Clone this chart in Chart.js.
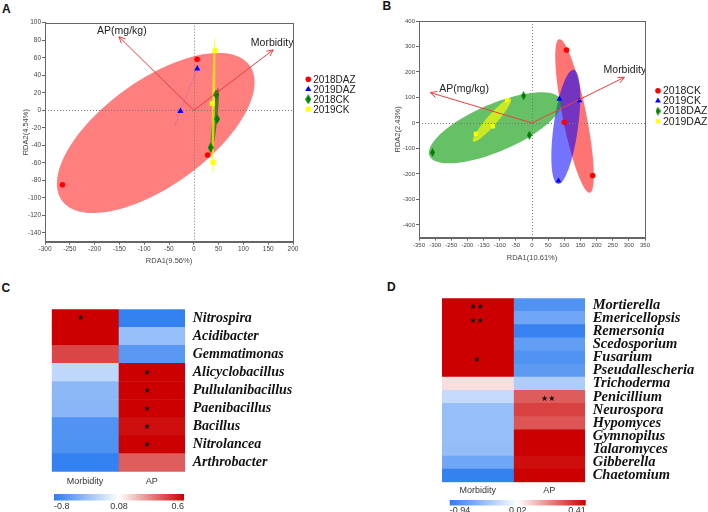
<!DOCTYPE html>
<html lang="en">
<head>
<meta charset="UTF-8">
<title>RDA and correlation heatmaps</title>
<style>
  body { margin: 0; background: #fff; width: 708px; height: 512px; position: relative; overflow: hidden; }
  .box { position: absolute; }
  .tag { position: absolute; font: bold 12px "Liberation Sans", Arial, sans-serif; color: #111; line-height: 12px; }
</style>
</head>
<body>
<div class="tag" style="left:2px;top:2.5px">A</div>
<div class="tag" style="left:382.5px;top:-0.5px">B</div>
<div class="tag" style="left:1.5px;top:281.5px">C</div>
<div class="tag" style="left:387px;top:281px">D</div>

<div class="box" style="left:0;top:0;width:362px;height:268px"><canvas id="chartA"></canvas></div>
<div class="box" style="left:350px;top:0;width:358px;height:265px"><canvas id="chartB"></canvas></div>
<div class="box" style="left:0;top:280px;width:354px;height:232px"><canvas id="chartC"></canvas></div>
<div class="box" style="left:354px;top:280px;width:354px;height:232px"><canvas id="chartD"></canvas></div>

<script src="https://cdn.jsdelivr.net/npm/chart.js@4.4.0/dist/chart.umd.min.js"></script>
<script>
// ---- panel A: RDA, bacteria ----
const aGroups = ['2018DAZ', '2019DAZ', '2018CK', '2019CK'];
const aX = [[6.7, 28, -265], [7, -27], [45, 47, 34], [43, 37, 39]];
const aY = [[58.3, -51, -85], [47.5, -1], [18, -10, -42.6], [68, 7.7, -59.5]];
const aVecNames = ['AP(mg/kg)', 'Morbidity'];
const aVecX = [-151, 160];
const aVecY = [84, 69];
const aXTicks = [-300, -250, -200, -150, -100, -50, 0, 50, 100, 150, 200];
const aYTicks = [100, 80, 60, 40, 20, 0, -20, -40, -60, -80, -100, -120, -140];

// ---- panel B: RDA, fungi ----
const bGroups = ['2018CK', '2019CK', '2018DAZ', '2019DAZ'];
const bX = [[107, 100, 188], [85, 147, 82], [-26, -8, -308], [-77, -121, -174]];
const bY = [[286, 3, -206], [94, 88, -227], [107, -48, -116], [90, -13, -43]];
const bVecNames = ['AP(mg/kg)', 'Morbidity'];
const bVecX = [-315, 286];
const bVecY = [119, 179];
const bXTicks = [-350, -300, -250, -200, -150, -100, -50, 0, 50, 100, 150, 200, 250, 300, 350];
const bYTicks = [400, 300, 200, 100, 0, -100, -200, -300, -400];

// ---- panel C: bacteria heatmap ----
const cGenera = ['Nitrospira', 'Acidibacter', 'Gemmatimonas', 'Alicyclobacillus', 'Pullulanibacillus',
  'Paenibacillus', 'Bacillus', 'Nitrolancea', 'Arthrobacter'];
const cMorbidity = [0.6, 0.6, 0.46, -0.19, -0.40, -0.42, -0.65, -0.66, -0.77];
const cAP = [-0.77, -0.36, -0.61, 0.6, 0.6, 0.6, 0.57, 0.6, 0.41];
const cMorbiditySig = ['*', '', '', '', '', '', '', '', ''];
const cAPSig = ['', '', '', '*', '*', '*', '*', '*', ''];
const cScaleTicks = [-0.8, 0.08, 0.6];

// ---- panel D: fungi heatmap ----
const dGenera = ['Mortierella', 'Emericellopsis', 'Remersonia', 'Scedosporium', 'Fusarium', 'Pseudallescheria',
  'Trichoderma', 'Penicillium', 'Neurospora', 'Hypomyces', 'Gymnopilus', 'Talaromyces', 'Gibberella', 'Chaetomium'];
const dMorbidity = [0.41, 0.41, 0.41, 0.41, 0.41, 0.41, 0.07, -0.25, -0.46, -0.46, -0.46, -0.47, -0.64, -0.91];
const dAP = [-0.78, -0.64, -0.9, -0.7, -0.78, -0.72, -0.35, 0.27, 0.31, 0.28, 0.41, 0.41, 0.39, 0.41];
const dMorbiditySig = ['**', '**', '', '', '*', '', '', '', '', '', '', '', '', ''];
const dAPSig = ['', '', '', '', '', '', '', '**', '', '', '', '', '', ''];
const dScaleTicks = [-0.94, 0.02, 0.41];

const heatColumns = ['Morbidity', 'AP'];

const SANS = '"Liberation Sans", Arial, sans-serif';
const SERIF = '"Liberation Serif", "Times New Roman", serif';
Chart.defaults.font.family = SANS;

const BLUE = [45, 125, 240], RED = [204, 0, 0];

function heatColor(v, lo, mid, hi) {
  let t, c;
  if (v <= mid) { t = Math.min(1, (mid - v) / (mid - lo)); c = BLUE; }
  else { t = Math.min(1, (v - mid) / (hi - mid)); c = RED; }
  const m = k => Math.round(255 + (c[k] - 255) * t);
  return `rgb(${m(0)},${m(1)},${m(2)})`;
}

function tallDiamond(color, w, h) {
  const c = document.createElement('canvas');
  c.width = w; c.height = h;
  const g = c.getContext('2d');
  g.fillStyle = color;
  g.beginPath();
  g.moveTo(w / 2, 0); g.lineTo(w, h / 2); g.lineTo(w / 2, h); g.lineTo(0, h / 2);
  g.closePath(); g.fill();
  return c;
}

// confidence-style ellipse from each group's covariance, then the zero lines
const ellipsePlugin = {
  id: 'ellipses',
  beforeDatasetsDraw(chart, args, opts) {
    const {ctx, chartArea: a, scales: {x, y}} = chart;
    ctx.save();
    ctx.beginPath(); ctx.rect(a.left, a.top, a.width, a.height); ctx.clip();
    chart.data.datasets.forEach(ds => {
      const pts = ds.data, n = pts.length;
      const mx = pts.reduce((s, p) => s + p.x, 0) / n;
      const my = pts.reduce((s, p) => s + p.y, 0) / n;
      let sxx = 0, syy = 0, sxy = 0;
      pts.forEach(p => { const dx = p.x - mx, dy = p.y - my; sxx += dx * dx; syy += dy * dy; sxy += dx * dy; });
      sxx /= n - 1; syy /= n - 1; sxy /= n - 1;
      const h = (sxx + syy) / 2, d = Math.sqrt(((sxx - syy) / 2) ** 2 + sxy * sxy);
      const r1 = opts.scale * Math.sqrt(Math.max(h + d, 0));
      const r2 = opts.scale * Math.sqrt(Math.max(h - d, 0));
      const phi = 0.5 * Math.atan2(2 * sxy, sxx - syy);
      ctx.beginPath();
      for (let i = 0; i <= 120; i++) {
        const t = i / 120 * 2 * Math.PI;
        const u = r1 * Math.cos(t), v = r2 * Math.sin(t);
        const px = x.getPixelForValue(mx + u * Math.cos(phi) - v * Math.sin(phi));
        const py = y.getPixelForValue(my + u * Math.sin(phi) + v * Math.cos(phi));
        if (i) ctx.lineTo(px, py); else ctx.moveTo(px, py);
      }
      ctx.closePath();
      if (r2 < r1 * 1e-3) {
        ctx.strokeStyle = ds.ellipseLine; ctx.lineWidth = 1; ctx.stroke();
      } else {
        ctx.fillStyle = ds.ellipseFill; ctx.fill();
      }
    });
    // dotted zero lines
    const x0 = Math.round(x.getPixelForValue(0)) + 0.5, y0 = Math.round(y.getPixelForValue(0)) + 0.5;
    ctx.strokeStyle = '#777'; ctx.lineWidth = 1; ctx.setLineDash([1, 2]);
    ctx.beginPath();
    ctx.moveTo(x0, a.top); ctx.lineTo(x0, a.bottom);
    ctx.moveTo(a.left, y0); ctx.lineTo(a.right, y0);
    ctx.stroke();
    ctx.restore();
  }
};

const vectorPlugin = {
  id: 'vectors',
  afterDatasetsDraw(chart, args, opts) {
    const {ctx, scales: {x, y}} = chart;
    const x0 = x.getPixelForValue(0), y0 = y.getPixelForValue(0);
    ctx.save();
    ctx.strokeStyle = opts.color; ctx.lineWidth = 1;
    opts.names.forEach((name, i) => {
      const x1 = x.getPixelForValue(opts.xs[i]), y1 = y.getPixelForValue(opts.ys[i]);
      const ang = Math.atan2(y1 - y0, x1 - x0);
      ctx.beginPath();
      ctx.moveTo(x0, y0); ctx.lineTo(x1, y1);
      [-1, 1].forEach(s => {
        ctx.moveTo(x1, y1);
        ctx.lineTo(x1 - 7 * Math.cos(ang + s * 0.45), y1 - 7 * Math.sin(ang + s * 0.45));
      });
      ctx.stroke();
      const lab = opts.labels[i];
      ctx.fillStyle = '#222';
      ctx.font = `${opts.size}px ${SANS}`;
      ctx.textAlign = lab.align; ctx.textBaseline = 'middle';
      ctx.fillText(name, x1 + lab.dx, y1 + lab.dy);
    });
    ctx.restore();
  }
};

const frameLegend = {
  id: 'frameLegend',
  afterDraw(chart, args, opts) {
    const {ctx, chartArea: a} = chart;
    ctx.save();
    ctx.strokeStyle = '#666'; ctx.lineWidth = 1;
    ctx.strokeRect(Math.round(a.left) + 0.5, Math.round(a.top) + 0.5, Math.round(a.width), Math.round(a.height));
    ctx.font = `${opts.size}px ${SANS}`;
    ctx.textBaseline = 'middle'; ctx.textAlign = 'left';
    chart.data.datasets.forEach((ds, i) => {
      const yy = opts.y + i * opts.step;
      ctx.fillStyle = ds.backgroundColor;
      Chart.helpers.drawPoint(ctx, {pointStyle: ds.pointStyle, radius: ds.pointRadius, rotation: 0, borderWidth: 0}, opts.x, yy);
      ctx.fillStyle = '#222';
      ctx.fillText(ds.label, opts.x + opts.gap, yy + 0.5);
    });
    ctx.restore();
  }
};

function rdaChart(id, p) {
  return new Chart(document.getElementById(id), {
    type: 'scatter',
    data: {
      datasets: p.groups.map((g, i) => ({
        label: g,
        data: p.xs[i].map((v, j) => ({x: v, y: p.ys[i][j]})),
        backgroundColor: p.colors[i],
        borderWidth: 0,
        pointStyle: p.styles[i],
        pointRadius: p.radii[i],
        pointHoverRadius: p.radii[i],
        ellipseFill: p.fills[i],
        ellipseLine: p.lines[i]
      }))
    },
    options: {
      responsive: true, maintainAspectRatio: false, animation: false, events: [],
      layout: {padding: p.pad},
      plugins: {
        legend: {display: false}, tooltip: {enabled: false},
        ellipses: {scale: 1.22},
        vectors: {names: p.vecNames, xs: p.vecX, ys: p.vecY, color: 'rgb(240,60,60)', size: 10.5, labels: p.vecLabels},
        frameLegend: p.legend
      },
      scales: {
        x: {
          type: 'linear', min: p.xTicks[0], max: p.xTicks[p.xTicks.length - 1],
          afterBuildTicks: s => { s.ticks = p.xTicks.map(v => ({value: v})); },
          afterFit: s => { s.height = p.xAxisH; },
          ticks: {font: {size: p.tickSize}, color: '#444', padding: 1, autoSkip: false, maxRotation: 0},
          grid: {drawOnChartArea: false, tickLength: 3, color: '#666'},
          border: {color: '#666'},
          title: {display: true, text: p.xTitle, font: {size: 7.5}, color: '#444', padding: {top: 0, bottom: 3}}
        },
        y: {
          type: 'linear', min: p.yMin, max: p.yTicks[0],
          afterBuildTicks: s => { s.ticks = p.yTicks.map(v => ({value: v})); },
          afterFit: s => { s.width = p.yAxisW; },
          ticks: {font: {size: p.tickSize}, color: '#444', padding: 1, autoSkip: false},
          grid: {drawOnChartArea: false, tickLength: 3, color: '#666'},
          border: {color: '#666'},
          title: {display: true, text: p.yTitle, font: {size: 7.5}, color: '#444', padding: {top: 3, bottom: 0}}
        }
      }
    },
    plugins: [ellipsePlugin, vectorPlugin, frameLegend]
  });
}

rdaChart('chartA', {
  groups: aGroups, xs: aX, ys: aY,
  colors: ['#ff0000', '#0000ff', '#008000', '#ffff00'],
  styles: ['circle', 'triangle', tallDiamond('#008000', 6, 10), 'rect'],
  radii: [2.8, 3.6, 4, 3.5],
  fills: ['rgba(255,0,0,0.5)', 'rgba(0,0,255,0.5)', 'rgba(0,110,0,0.65)', 'rgba(255,255,0,0.7)'],
  lines: ['rgba(255,0,0,0.3)', 'rgba(90,90,255,0.12)', 'rgba(0,110,0,0.3)', 'rgba(255,255,0,0.4)'],
  vecNames: aVecNames, vecX: aVecX, vecY: aVecY,
  vecLabels: [{align: 'center', dx: 3, dy: -6}, {align: 'center', dx: -1, dy: -7}],
  xTicks: aXTicks, yTicks: aYTicks, yMin: -150,
  xTitle: 'RDA1(9.56%)', yTitle: 'RDA2(4.54%)',
  pad: {left: 18, top: 22.7, right: 69, bottom: 0},
  yAxisW: 27, xAxisH: 26.3, tickSize: 6.5,
  legend: {x: 308.3, y: 79.3, step: 10, gap: 5, size: 10}
});

rdaChart('chartB', {
  groups: bGroups, xs: bX, ys: bY,
  colors: ['#ff0000', '#0000ff', '#008000', '#ffff00'],
  styles: ['circle', 'triangle', tallDiamond('#008000', 5, 9), 'rect'],
  radii: [2.8, 3.4, 4, 3],
  fills: ['rgba(255,0,0,0.55)', 'rgba(0,0,255,0.55)', 'rgba(0,150,0,0.6)', 'rgba(255,255,0,0.65)'],
  lines: ['rgba(255,0,0,0.3)', 'rgba(0,0,255,0.3)', 'rgba(0,150,0,0.3)', 'rgba(255,255,0,0.4)'],
  vecNames: bVecNames, vecX: bVecX, vecY: bVecY,
  vecLabels: [{align: 'left', dx: 9, dy: -4}, {align: 'center', dx: 0.5, dy: -7.5}],
  xTicks: bXTicks, yTicks: bYTicks, yMin: -450,
  xTitle: 'RDA1(10.61%)', yTitle: 'RDA2(2.43%)',
  pad: {left: 40, top: 21, right: 63, bottom: 0},
  yAxisW: 29, xAxisH: 27.3, tickSize: 6,
  legend: {x: 308, y: 90.7, step: 10.2, gap: 5, size: 10.5}
});

// ---- heatmaps ----
const starPlugin = {
  id: 'stars',
  afterDatasetsDraw(chart, args, opts) {
    const {ctx, scales: {x, y}} = chart;
    ctx.save();
    ctx.fillStyle = '#111';
    ctx.font = `${opts.size}px "DejaVu Sans", sans-serif`;
    ctx.textAlign = 'center'; ctx.textBaseline = 'middle';
    opts.marks.forEach((col, i) => {
      col.forEach((m, j) => {
        if (!m) return;
        ctx.fillText(m.replace(/\*/g, '\u2605'), x.getPixelForValue(i + 0.5) + opts.dx, y.getPixelForValue(j) + opts.dy);
      });
    });
    ctx.restore();
  }
};

const colorbarPlugin = {
  id: 'colorbar',
  afterDraw(chart, args, opts) {
    const ctx = chart.ctx;
    const g = ctx.createLinearGradient(opts.x0, 0, opts.x1, 0);
    g.addColorStop(0, `rgb(${BLUE.join(',')})`);
    g.addColorStop(0.5, '#ffffff');
    g.addColorStop(1, `rgb(${RED.join(',')})`);
    ctx.save();
    ctx.fillStyle = g;
    ctx.fillRect(opts.x0, opts.y0, opts.x1 - opts.x0, opts.y1 - opts.y0);
    ctx.fillStyle = '#333';
    ctx.font = `9px ${SANS}`;
    ctx.textBaseline = 'middle';
    const xs = [opts.x0, (opts.x0 + opts.x1) / 2, opts.x1];
    const al = ['left', 'center', 'right'];
    opts.ticks.forEach((t, i) => {
      ctx.textAlign = al[i];
      ctx.fillText(String(t), xs[i], opts.labelY);
    });
    ctx.restore();
  }
};

function heatmap(id, p) {
  const [lo, mid, hi] = p.scaleTicks;
  return new Chart(document.getElementById(id), {
    type: 'bar',
    data: {
      labels: p.rows,
      datasets: heatColumns.map((c, i) => ({
        label: c,
        data: p.rows.map(() => 1),
        backgroundColor: p.values[i].map(v => heatColor(v, lo, mid, hi)),
        borderWidth: 0,
        categoryPercentage: 1,
        barPercentage: 1
      }))
    },
    options: {
      indexAxis: 'y',
      responsive: true, maintainAspectRatio: false, animation: false, events: [],
      layout: {padding: p.pad},
      plugins: {
        legend: {display: false}, tooltip: {enabled: false},
        stars: {marks: p.sig, dx: p.starDx, dy: p.starDy, size: p.starSize},
        colorbar: p.bar
      },
      scales: {
        x: {
          type: 'linear', stacked: true, min: 0, max: 2,
          afterBuildTicks: s => { s.ticks = [{value: 0.5}, {value: 1.5}]; },
          afterFit: s => { s.height = p.xAxisH; },
          ticks: {callback: v => heatColumns[v < 1 ? 0 : 1], font: {size: 9}, color: '#333', padding: p.colPad, maxRotation: 0, autoSkip: false},
          grid: {display: false, drawTicks: false}, border: {display: false}
        },
        y: {
          type: 'category', stacked: true, position: 'right',
          afterFit: s => { s.width = p.yAxisW; },
          ticks: {font: {family: SERIF, size: p.rowFont, style: 'italic', weight: 'bold'}, color: '#111', padding: 7.7, autoSkip: false},
          grid: {display: false, drawTicks: false}, border: {display: false}
        }
      }
    },
    plugins: [starPlugin, colorbarPlugin]
  });
}

heatmap('chartC', {
  rows: cGenera, values: [cMorbidity, cAP], sig: [cMorbiditySig, cAPSig], scaleTicks: cScaleTicks,
  pad: {left: 51.7, top: 29.3, right: 9, bottom: 0},
  yAxisW: 160, xAxisH: 40.3, colPad: 4.5, rowFont: 14,
  starDx: -4.5, starDy: 0, starSize: 8,
  bar: {x0: 54, x1: 184, y0: 214, y1: 220.5, labelY: 227, ticks: cScaleTicks}
});

heatmap('chartD', {
  rows: dGenera, values: [dMorbidity, dAP], sig: [dMorbiditySig, dAPSig], scaleTicks: dScaleTicks,
  pad: {left: 88, top: 18.3, right: 3, bottom: 0},
  yAxisW: 120, xAxisH: 29.7, colPad: 3, rowFont: 14.5,
  starDx: -1, starDy: 2.5, starSize: 8,
  bar: {x0: 95.7, x1: 231.7, y0: 220, y1: 225.5, labelY: 230.5, ticks: dScaleTicks}
});
</script>
</body>
</html>
